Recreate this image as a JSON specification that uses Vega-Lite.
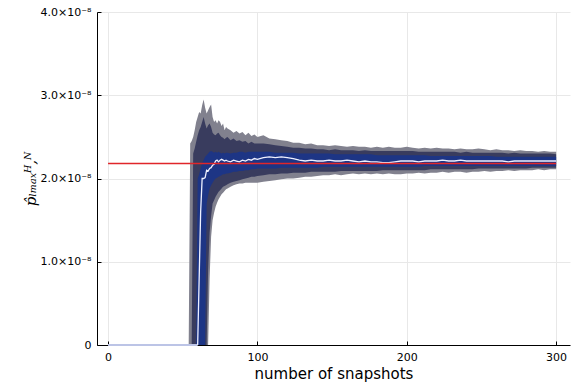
{
  "$schema": "https://vega.github.io/schema/vega-lite/v6.json",
  "width": 473,
  "height": 333,
  "autosize": {"type": "none"},
  "padding": {"left": 97, "top": 12, "right": 11, "bottom": 43},
  "background": "white",
  "config": {
    "view": {"stroke": null},
    "axis": {
      "domainColor": "#000000",
      "domainWidth": 1,
      "tickColor": "#000000",
      "tickSize": -4,
      "gridColor": "#e8e8e8",
      "gridWidth": 1,
      "labelFont": "DejaVu Sans",
      "labelFontSize": 11,
      "labelColor": "#000000",
      "titleColor": "#000000",
      "titleFontWeight": "normal"
    },
    "axisX": {"labelPadding": 10, "titleFont": "DejaVu Sans", "titleFontSize": 15, "titlePadding": 4},
    "axisY": {"labelPadding": 10, "titleFont": "DejaVu Serif", "titleFontStyle": "italic", "titleFontSize": 15, "titlePadding": 2}
  },
  "datasets": {
    "q": [
      {"x":0,"l1":0,"h1":0,"l2":0,"h2":0,"l3":0,"h3":0,"m":0},
      {"x":54,"l1":0,"h1":0,"l2":0,"h2":0,"l3":0,"h3":0,"m":0},
      {"x":55,"l1":0,"h1":2.42e-8,"l2":0,"h2":0,"l3":0,"h3":0,"m":0},
      {"x":56,"l1":0,"h1":2.45e-8,"l2":0,"h2":0,"l3":0,"h3":0,"m":0},
      {"x":57,"l1":0,"h1":2.50e-8,"l2":0,"h2":2.30e-8,"l3":0,"h3":0,"m":0},
      {"x":58,"l1":0,"h1":2.58e-8,"l2":0,"h2":2.36e-8,"l3":0,"h3":0,"m":0},
      {"x":59,"l1":0,"h1":2.68e-8,"l2":0,"h2":2.44e-8,"l3":0,"h3":0,"m":0},
      {"x":60,"l1":0,"h1":2.74e-8,"l2":0,"h2":2.52e-8,"l3":0,"h3":2.00e-8,"m":0},
      {"x":61,"l1":0,"h1":2.80e-8,"l2":0,"h2":2.58e-8,"l3":0,"h3":2.05e-8,"m":0.8e-8},
      {"x":62,"l1":0,"h1":2.78e-8,"l2":0,"h2":2.62e-8,"l3":0,"h3":2.12e-8,"m":1.6e-8},
      {"x":63,"l1":0,"h1":2.88e-8,"l2":0,"h2":2.68e-8,"l3":0,"h3":2.18e-8,"m":2.0e-8},
      {"x":64,"l1":0,"h1":2.95e-8,"l2":0,"h2":2.74e-8,"l3":0,"h3":2.22e-8,"m":2.0e-8},
      {"x":65,"l1":0,"h1":2.85e-8,"l2":0,"h2":2.66e-8,"l3":0,"h3":2.26e-8,"m":2.01e-8},
      {"x":66,"l1":0,"h1":2.78e-8,"l2":0,"h2":2.60e-8,"l3":1.70e-8,"h3":2.28e-8,"m":2.10e-8},
      {"x":67,"l1":0,"h1":2.82e-8,"l2":0.90e-8,"h2":2.64e-8,"l3":1.80e-8,"h3":2.30e-8,"m":2.09e-8},
      {"x":68,"l1":0.80e-8,"h1":2.86e-8,"l2":1.35e-8,"h2":2.66e-8,"l3":1.88e-8,"h3":2.32e-8,"m":2.12e-8},
      {"x":69,"l1":1.30e-8,"h1":2.89e-8,"l2":1.55e-8,"h2":2.62e-8,"l3":1.92e-8,"h3":2.33e-8,"m":2.13e-8},
      {"x":70,"l1":1.50e-8,"h1":2.74e-8,"l2":1.70e-8,"h2":2.55e-8,"l3":1.95e-8,"h3":2.32e-8,"m":2.16e-8},
      {"x":71,"l1":1.59e-8,"h1":2.68e-8,"l2":1.74e-8,"h2":2.53e-8,"l3":1.98e-8,"h3":2.31e-8,"m":2.17e-8},
      {"x":72,"l1":1.66e-8,"h1":2.70e-8,"l2":1.78e-8,"h2":2.52e-8,"l3":2.00e-8,"h3":2.32e-8,"m":2.21e-8},
      {"x":73,"l1":1.71e-8,"h1":2.66e-8,"l2":1.81e-8,"h2":2.54e-8,"l3":2.01e-8,"h3":2.31e-8,"m":2.22e-8},
      {"x":74,"l1":1.75e-8,"h1":2.70e-8,"l2":1.84e-8,"h2":2.55e-8,"l3":2.02e-8,"h3":2.32e-8,"m":2.20e-8},
      {"x":75,"l1":1.78e-8,"h1":2.68e-8,"l2":1.86e-8,"h2":2.52e-8,"l3":2.03e-8,"h3":2.31e-8,"m":2.22e-8},
      {"x":76,"l1":1.81e-8,"h1":2.63e-8,"l2":1.88e-8,"h2":2.50e-8,"l3":2.04e-8,"h3":2.30e-8,"m":2.23e-8},
      {"x":77,"l1":1.83e-8,"h1":2.66e-8,"l2":1.90e-8,"h2":2.49e-8,"l3":2.05e-8,"h3":2.31e-8,"m":2.22e-8},
      {"x":78,"l1":1.85e-8,"h1":2.58e-8,"l2":1.91e-8,"h2":2.47e-8,"l3":2.05e-8,"h3":2.30e-8,"m":2.21e-8},
      {"x":79,"l1":1.87e-8,"h1":2.62e-8,"l2":1.92e-8,"h2":2.49e-8,"l3":2.06e-8,"h3":2.31e-8,"m":2.22e-8},
      {"x":80,"l1":1.88e-8,"h1":2.60e-8,"l2":1.93e-8,"h2":2.50e-8,"l3":2.06e-8,"h3":2.31e-8,"m":2.21e-8},
      {"x":82,"l1":1.90e-8,"h1":2.58e-8,"l2":1.95e-8,"h2":2.46e-8,"l3":2.07e-8,"h3":2.30e-8,"m":2.20e-8},
      {"x":84,"l1":1.92e-8,"h1":2.55e-8,"l2":1.96e-8,"h2":2.48e-8,"l3":2.08e-8,"h3":2.31e-8,"m":2.22e-8},
      {"x":86,"l1":1.93e-8,"h1":2.57e-8,"l2":1.97e-8,"h2":2.45e-8,"l3":2.08e-8,"h3":2.31e-8,"m":2.21e-8},
      {"x":88,"l1":1.94e-8,"h1":2.54e-8,"l2":1.98e-8,"h2":2.46e-8,"l3":2.09e-8,"h3":2.32e-8,"m":2.20e-8},
      {"x":90,"l1":1.94e-8,"h1":2.56e-8,"l2":1.99e-8,"h2":2.44e-8,"l3":2.09e-8,"h3":2.32e-8,"m":2.22e-8},
      {"x":92,"l1":1.95e-8,"h1":2.52e-8,"l2":2.00e-8,"h2":2.45e-8,"l3":2.10e-8,"h3":2.31e-8,"m":2.21e-8},
      {"x":94,"l1":1.95e-8,"h1":2.55e-8,"l2":2.01e-8,"h2":2.42e-8,"l3":2.10e-8,"h3":2.32e-8,"m":2.23e-8},
      {"x":96,"l1":1.95e-8,"h1":2.51e-8,"l2":2.02e-8,"h2":2.44e-8,"l3":2.11e-8,"h3":2.32e-8,"m":2.22e-8},
      {"x":98,"l1":1.95e-8,"h1":2.53e-8,"l2":2.02e-8,"h2":2.42e-8,"l3":2.11e-8,"h3":2.32e-8,"m":2.24e-8},
      {"x":100,"l1":1.95e-8,"h1":2.50e-8,"l2":2.03e-8,"h2":2.42e-8,"l3":2.12e-8,"h3":2.32e-8,"m":2.23e-8},
      {"x":104,"l1":1.96e-8,"h1":2.52e-8,"l2":2.04e-8,"h2":2.42e-8,"l3":2.12e-8,"h3":2.32e-8,"m":2.25e-8},
      {"x":108,"l1":1.97e-8,"h1":2.48e-8,"l2":2.05e-8,"h2":2.41e-8,"l3":2.12e-8,"h3":2.32e-8,"m":2.26e-8},
      {"x":112,"l1":1.98e-8,"h1":2.47e-8,"l2":2.05e-8,"h2":2.40e-8,"l3":2.12e-8,"h3":2.31e-8,"m":2.25e-8},
      {"x":116,"l1":1.99e-8,"h1":2.46e-8,"l2":2.06e-8,"h2":2.39e-8,"l3":2.13e-8,"h3":2.31e-8,"m":2.26e-8},
      {"x":120,"l1":2.00e-8,"h1":2.45e-8,"l2":2.06e-8,"h2":2.38e-8,"l3":2.13e-8,"h3":2.31e-8,"m":2.25e-8},
      {"x":124,"l1":2.00e-8,"h1":2.43e-8,"l2":2.07e-8,"h2":2.37e-8,"l3":2.13e-8,"h3":2.31e-8,"m":2.24e-8},
      {"x":128,"l1":2.01e-8,"h1":2.43e-8,"l2":2.07e-8,"h2":2.37e-8,"l3":2.13e-8,"h3":2.30e-8,"m":2.22e-8},
      {"x":132,"l1":2.02e-8,"h1":2.41e-8,"l2":2.07e-8,"h2":2.36e-8,"l3":2.13e-8,"h3":2.30e-8,"m":2.21e-8},
      {"x":136,"l1":2.02e-8,"h1":2.42e-8,"l2":2.08e-8,"h2":2.36e-8,"l3":2.13e-8,"h3":2.30e-8,"m":2.22e-8},
      {"x":140,"l1":2.03e-8,"h1":2.40e-8,"l2":2.08e-8,"h2":2.35e-8,"l3":2.13e-8,"h3":2.30e-8,"m":2.21e-8},
      {"x":144,"l1":2.04e-8,"h1":2.40e-8,"l2":2.08e-8,"h2":2.35e-8,"l3":2.14e-8,"h3":2.30e-8,"m":2.21e-8},
      {"x":148,"l1":2.04e-8,"h1":2.39e-8,"l2":2.08e-8,"h2":2.34e-8,"l3":2.14e-8,"h3":2.30e-8,"m":2.22e-8},
      {"x":152,"l1":2.05e-8,"h1":2.40e-8,"l2":2.08e-8,"h2":2.35e-8,"l3":2.14e-8,"h3":2.29e-8,"m":2.21e-8},
      {"x":156,"l1":2.04e-8,"h1":2.39e-8,"l2":2.09e-8,"h2":2.34e-8,"l3":2.14e-8,"h3":2.29e-8,"m":2.21e-8},
      {"x":160,"l1":2.05e-8,"h1":2.38e-8,"l2":2.09e-8,"h2":2.34e-8,"l3":2.14e-8,"h3":2.29e-8,"m":2.22e-8},
      {"x":164,"l1":2.06e-8,"h1":2.39e-8,"l2":2.09e-8,"h2":2.34e-8,"l3":2.14e-8,"h3":2.29e-8,"m":2.21e-8},
      {"x":168,"l1":2.05e-8,"h1":2.38e-8,"l2":2.09e-8,"h2":2.33e-8,"l3":2.14e-8,"h3":2.29e-8,"m":2.20e-8},
      {"x":172,"l1":2.06e-8,"h1":2.38e-8,"l2":2.09e-8,"h2":2.34e-8,"l3":2.14e-8,"h3":2.29e-8,"m":2.21e-8},
      {"x":176,"l1":2.05e-8,"h1":2.37e-8,"l2":2.09e-8,"h2":2.33e-8,"l3":2.14e-8,"h3":2.29e-8,"m":2.20e-8},
      {"x":180,"l1":2.06e-8,"h1":2.38e-8,"l2":2.09e-8,"h2":2.33e-8,"l3":2.14e-8,"h3":2.28e-8,"m":2.20e-8},
      {"x":184,"l1":2.05e-8,"h1":2.37e-8,"l2":2.10e-8,"h2":2.33e-8,"l3":2.14e-8,"h3":2.28e-8,"m":2.19e-8},
      {"x":188,"l1":2.06e-8,"h1":2.38e-8,"l2":2.10e-8,"h2":2.33e-8,"l3":2.14e-8,"h3":2.28e-8,"m":2.19e-8},
      {"x":192,"l1":2.05e-8,"h1":2.37e-8,"l2":2.10e-8,"h2":2.33e-8,"l3":2.14e-8,"h3":2.28e-8,"m":2.20e-8},
      {"x":196,"l1":2.05e-8,"h1":2.37e-8,"l2":2.10e-8,"h2":2.33e-8,"l3":2.14e-8,"h3":2.28e-8,"m":2.21e-8},
      {"x":200,"l1":2.06e-8,"h1":2.38e-8,"l2":2.10e-8,"h2":2.33e-8,"l3":2.14e-8,"h3":2.28e-8,"m":2.21e-8},
      {"x":204,"l1":2.06e-8,"h1":2.37e-8,"l2":2.10e-8,"h2":2.33e-8,"l3":2.14e-8,"h3":2.28e-8,"m":2.21e-8},
      {"x":208,"l1":2.07e-8,"h1":2.36e-8,"l2":2.10e-8,"h2":2.32e-8,"l3":2.14e-8,"h3":2.28e-8,"m":2.20e-8},
      {"x":212,"l1":2.06e-8,"h1":2.37e-8,"l2":2.10e-8,"h2":2.32e-8,"l3":2.15e-8,"h3":2.28e-8,"m":2.21e-8},
      {"x":216,"l1":2.07e-8,"h1":2.36e-8,"l2":2.11e-8,"h2":2.32e-8,"l3":2.15e-8,"h3":2.27e-8,"m":2.21e-8},
      {"x":220,"l1":2.07e-8,"h1":2.37e-8,"l2":2.11e-8,"h2":2.32e-8,"l3":2.15e-8,"h3":2.27e-8,"m":2.21e-8},
      {"x":224,"l1":2.08e-8,"h1":2.36e-8,"l2":2.11e-8,"h2":2.32e-8,"l3":2.15e-8,"h3":2.27e-8,"m":2.22e-8},
      {"x":228,"l1":2.07e-8,"h1":2.36e-8,"l2":2.11e-8,"h2":2.32e-8,"l3":2.15e-8,"h3":2.27e-8,"m":2.21e-8},
      {"x":232,"l1":2.08e-8,"h1":2.35e-8,"l2":2.11e-8,"h2":2.32e-8,"l3":2.15e-8,"h3":2.27e-8,"m":2.21e-8},
      {"x":236,"l1":2.08e-8,"h1":2.36e-8,"l2":2.11e-8,"h2":2.31e-8,"l3":2.15e-8,"h3":2.27e-8,"m":2.22e-8},
      {"x":240,"l1":2.07e-8,"h1":2.35e-8,"l2":2.11e-8,"h2":2.32e-8,"l3":2.15e-8,"h3":2.27e-8,"m":2.21e-8},
      {"x":244,"l1":2.08e-8,"h1":2.35e-8,"l2":2.11e-8,"h2":2.31e-8,"l3":2.15e-8,"h3":2.27e-8,"m":2.21e-8},
      {"x":248,"l1":2.08e-8,"h1":2.36e-8,"l2":2.12e-8,"h2":2.31e-8,"l3":2.15e-8,"h3":2.27e-8,"m":2.21e-8},
      {"x":252,"l1":2.09e-8,"h1":2.35e-8,"l2":2.12e-8,"h2":2.31e-8,"l3":2.15e-8,"h3":2.27e-8,"m":2.21e-8},
      {"x":256,"l1":2.08e-8,"h1":2.34e-8,"l2":2.12e-8,"h2":2.31e-8,"l3":2.15e-8,"h3":2.27e-8,"m":2.21e-8},
      {"x":260,"l1":2.09e-8,"h1":2.35e-8,"l2":2.12e-8,"h2":2.31e-8,"l3":2.15e-8,"h3":2.26e-8,"m":2.21e-8},
      {"x":264,"l1":2.09e-8,"h1":2.34e-8,"l2":2.12e-8,"h2":2.31e-8,"l3":2.15e-8,"h3":2.26e-8,"m":2.21e-8},
      {"x":268,"l1":2.10e-8,"h1":2.34e-8,"l2":2.12e-8,"h2":2.30e-8,"l3":2.15e-8,"h3":2.26e-8,"m":2.20e-8},
      {"x":272,"l1":2.09e-8,"h1":2.33e-8,"l2":2.12e-8,"h2":2.31e-8,"l3":2.15e-8,"h3":2.26e-8,"m":2.21e-8},
      {"x":276,"l1":2.10e-8,"h1":2.34e-8,"l2":2.12e-8,"h2":2.30e-8,"l3":2.15e-8,"h3":2.26e-8,"m":2.21e-8},
      {"x":280,"l1":2.10e-8,"h1":2.33e-8,"l2":2.12e-8,"h2":2.30e-8,"l3":2.15e-8,"h3":2.26e-8,"m":2.21e-8},
      {"x":284,"l1":2.10e-8,"h1":2.33e-8,"l2":2.13e-8,"h2":2.30e-8,"l3":2.15e-8,"h3":2.26e-8,"m":2.21e-8},
      {"x":288,"l1":2.11e-8,"h1":2.32e-8,"l2":2.13e-8,"h2":2.30e-8,"l3":2.15e-8,"h3":2.26e-8,"m":2.21e-8},
      {"x":292,"l1":2.10e-8,"h1":2.33e-8,"l2":2.13e-8,"h2":2.30e-8,"l3":2.15e-8,"h3":2.26e-8,"m":2.21e-8},
      {"x":296,"l1":2.11e-8,"h1":2.32e-8,"l2":2.13e-8,"h2":2.30e-8,"l3":2.15e-8,"h3":2.26e-8,"m":2.21e-8},
      {"x":300,"l1":2.11e-8,"h1":2.32e-8,"l2":2.13e-8,"h2":2.29e-8,"l3":2.15e-8,"h3":2.26e-8,"m":2.21e-8}
    ],
    "ref": [{"x0": 0, "x1": 300, "v": 2.18e-8}]
  },
  "layer": [
    {
      "data": {"name": "q"},
      "mark": {"type": "area", "color": "#81818e", "opacity": 1},
      "encoding": {
        "x": {"field": "x", "type": "quantitative", "title": "number of snapshots",
              "scale": {"domain": [-7.4, 309.3], "nice": false, "zero": false},
              "axis": {"values": [0, 100, 200, 300], "grid": true}},
        "y": {"field": "h1", "type": "quantitative", "title": "p̂ₗₘₐₓᴴ,ᴺ",
              "scale": {"domain": [0, 4e-8], "nice": false},
              "axis": {"values": [0, 1e-8, 2e-8, 3e-8, 4e-8], "grid": true,
                       "labelExpr": "datum.value == 0 ? '0' : format(datum.value * 1e8, '.1f') + '×10⁻⁸'"}},
        "y2": {"field": "l1"}
      }
    },
    {
      "data": {"name": "q"},
      "mark": {"type": "area", "color": "#393c5e", "opacity": 1},
      "encoding": {
        "x": {"field": "x", "type": "quantitative", "title": "number of snapshots"},
        "y": {"field": "h2", "type": "quantitative", "title": "p̂ₗₘₐₓᴴ,ᴺ"},
        "y2": {"field": "l2"}
      }
    },
    {
      "data": {"name": "q"},
      "mark": {"type": "area", "color": "#1d3585", "opacity": 1},
      "encoding": {
        "x": {"field": "x", "type": "quantitative", "title": "number of snapshots"},
        "y": {"field": "h3", "type": "quantitative", "title": "p̂ₗₘₐₓᴴ,ᴺ"},
        "y2": {"field": "l3"}
      }
    },
    {
      "data": {"name": "q"},
      "transform": [{"filter": "datum.x <= 60"}],
      "mark": {"type": "line", "color": "#bcc4e6", "strokeWidth": 2},
      "encoding": {
        "x": {"field": "x", "type": "quantitative", "title": "number of snapshots"},
        "y": {"field": "m", "type": "quantitative", "title": "p̂ₗₘₐₓᴴ,ᴺ"}
      }
    },
    {
      "data": {"name": "q"},
      "transform": [{"filter": "datum.x >= 60"}],
      "mark": {"type": "line", "color": "#eef0ff", "strokeWidth": 1.3},
      "encoding": {
        "x": {"field": "x", "type": "quantitative", "title": "number of snapshots"},
        "y": {"field": "m", "type": "quantitative", "title": "p̂ₗₘₐₓᴴ,ᴺ"}
      }
    },
    {
      "data": {"name": "ref"},
      "mark": {"type": "rule", "color": "#e0262a", "strokeWidth": 1.3},
      "encoding": {
        "x": {"field": "x0", "type": "quantitative", "title": "number of snapshots"},
        "x2": {"field": "x1"},
        "y": {"field": "v", "type": "quantitative", "title": "p̂ₗₘₐₓᴴ,ᴺ"}
      }
    }
  ]
}
